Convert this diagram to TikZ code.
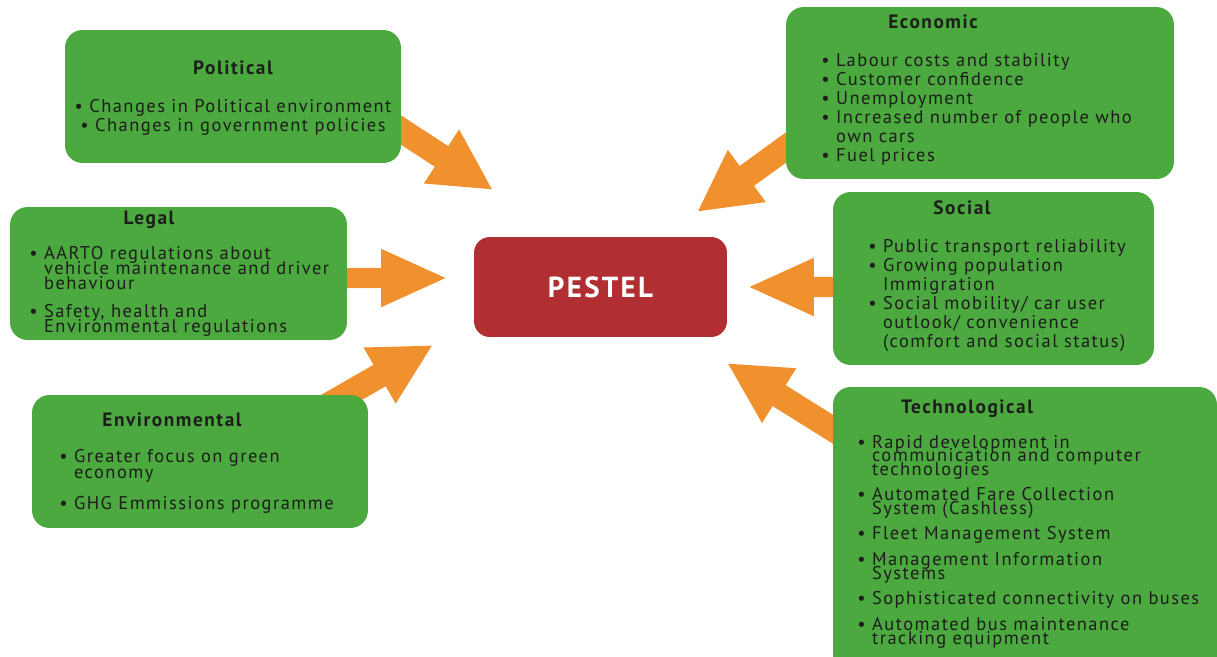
\documentclass[tikz,border=0pt]{standalone}
\usepackage{fontspec}
\setmainfont{PT Sans}[LetterSpace=8]
\usepackage{xcolor}
\usetikzlibrary{arrows.meta, positioning, calc, backgrounds}

\definecolor{boxgreen}{HTML}{4BA93F}
\definecolor{arrorange}{HTML}{F0912D}
\definecolor{pesred}{HTML}{B12F33}
\definecolor{txtdark}{HTML}{1D1D1B}

\newcommand{\bul}{\textbullet\ }
\newcommand{\ind}{\phantom{\bul}}

\tikzset{
  gbox/.style={fill=boxgreen, rounded corners=10pt, inner sep=0pt},
  ttl/.style={font=\bfseries\fontsize{11}{12}\selectfont, text=txtdark, inner sep=0pt},
  body/.style={font=\fontsize{10.5}{10.8}\selectfont, text=txtdark, inner sep=0pt, align=left},
  darrow/.style={draw=arrorange, line width=14pt, -{Triangle[length=35pt,width=34pt]}},
  harrow/.style={draw=arrorange, line width=11.4pt, -{Triangle[length=38pt,width=30pt]}}
}

\begin{document}
\begin{tikzpicture}[x=0.02cm, y=-0.02cm]
    \clip (0,0) rectangle (1217,656);

    % boxes
    \node[gbox, minimum width=6.72cm, minimum height=2.66cm] (pol) at (233,96.5) {};
    \node[gbox, minimum width=6.74cm, minimum height=2.66cm] (leg) at (178.5,273.5) {};
    \node[gbox, minimum width=6.72cm, minimum height=2.66cm] (env) at (200,461.5) {};
    \node[gbox, minimum width=7.76cm, minimum height=3.44cm] (eco) at (980,93) {};
    \node[gbox, minimum width=6.42cm, minimum height=3.46cm] (soc) at (993.5,278.5) {};
    \node[gbox, minimum width=7.68cm, minimum height=6.06cm] (tec) at (1025,538.5) {};

    % centre
    \node[fill=pesred, rounded corners=9pt, minimum width=5.06cm, minimum height=2cm,
          text=white, font=\bfseries\fontsize{16.5}{18}\selectfont] (pes) at (600.5,287) {PESTEL};

    % titles
    \node[ttl] (polT) at (233,68) {Political};
    \node[ttl] (legT) at (149,220) {Legal};
    \node[ttl] (envT) at (172,420) {Environmental};
    \node[ttl] (ecoT) at (933,22) {Economic};
    \node[ttl] (socT) at (962,208) {Social};
    \node[ttl] (tecT) at (967,409) {Technological};

    % bullet lists
    \node[body, align=center, anchor=north] (polB) at (233,99) {\bul Changes in Political environment\\
      \bul Changes in government policies};
    \node[body, anchor=north west] (legB) at (29,246) {\bul AARTO regulations about\\[-2.4pt]
      \ind vehicle maintenance and driver\\[-2.4pt]
      \ind behaviour\\[5.5pt]
      \bul Safety, health and\\[-2.4pt]
      \ind Environmental regulations};
    \node[body, anchor=north west] (envB) at (59,449) {\bul Greater focus on green\\[-1.7pt]
      \ind economy\\[6.8pt]
      \bul GHG Emmissions programme};
    \node[body, anchor=north west] (ecoB) at (821,53) {\bul Labour costs and stability\\
      \bul Customer confidence\\
      \bul Unemployment\\
      \bul Increased number of people who\\
      \ind own cars\\
      \bul Fuel prices};
    \node[body, anchor=north west] (socB) at (868,239) {\bul Public transport reliability\\
      \bul Growing population\\
      \ind Immigration\\
      \bul Social mobility/ car user\\
      \ind outlook/ convenience\\
      \ind (comfort and social status)};
    \node[body, anchor=north west] (tecB) at (857,435) {\bul Rapid development in\\[-3.1pt]
      \ind communication and computer\\[-3.1pt]
      \ind technologies\\[3.5pt]
      \bul Automated Fare Collection\\[-3.1pt]
      \ind System (Cashless)\\[3.7pt]
      \bul Fleet Management System\\[4pt]
      \bul Management Information\\[-3.1pt]
      \ind Systems\\[3.7pt]
      \bul Sophisticated connectivity on buses\\[4pt]
      \bul Automated bus maintenance\\[-3.1pt]
      \ind tracking equipment};

    % arrow tips
    \coordinate (tipP) at (493,190);
    \coordinate (tipL) at (448,278);
    \coordinate (tipE) at (433,345);
    \coordinate (tipEc) at (697,212);
    \coordinate (tipS) at (747,287);
    \coordinate (tipT) at (727,363);

    % arrows
    \begin{pgfonlayer}{background}
    \draw[darrow] ([shift={(-31,13.5)}]pol.east) -- (tipP);
    \draw[harrow] ([shift={(-17,4.5)}]leg.east) -- (tipL);
    \draw[darrow] ([shift={(92,31)}]env.north) -- (tipE);
    \draw[darrow] ([shift={(30,33)}]eco.west) -- (tipEc);
    \draw[harrow] ([shift={(17,8.5)}]soc.west) -- (tipS);
    \draw[darrow] ([shift={(27,-92.5)}]tec.west) -- (tipT);
    \end{pgfonlayer}
\end{tikzpicture}
\end{document}
